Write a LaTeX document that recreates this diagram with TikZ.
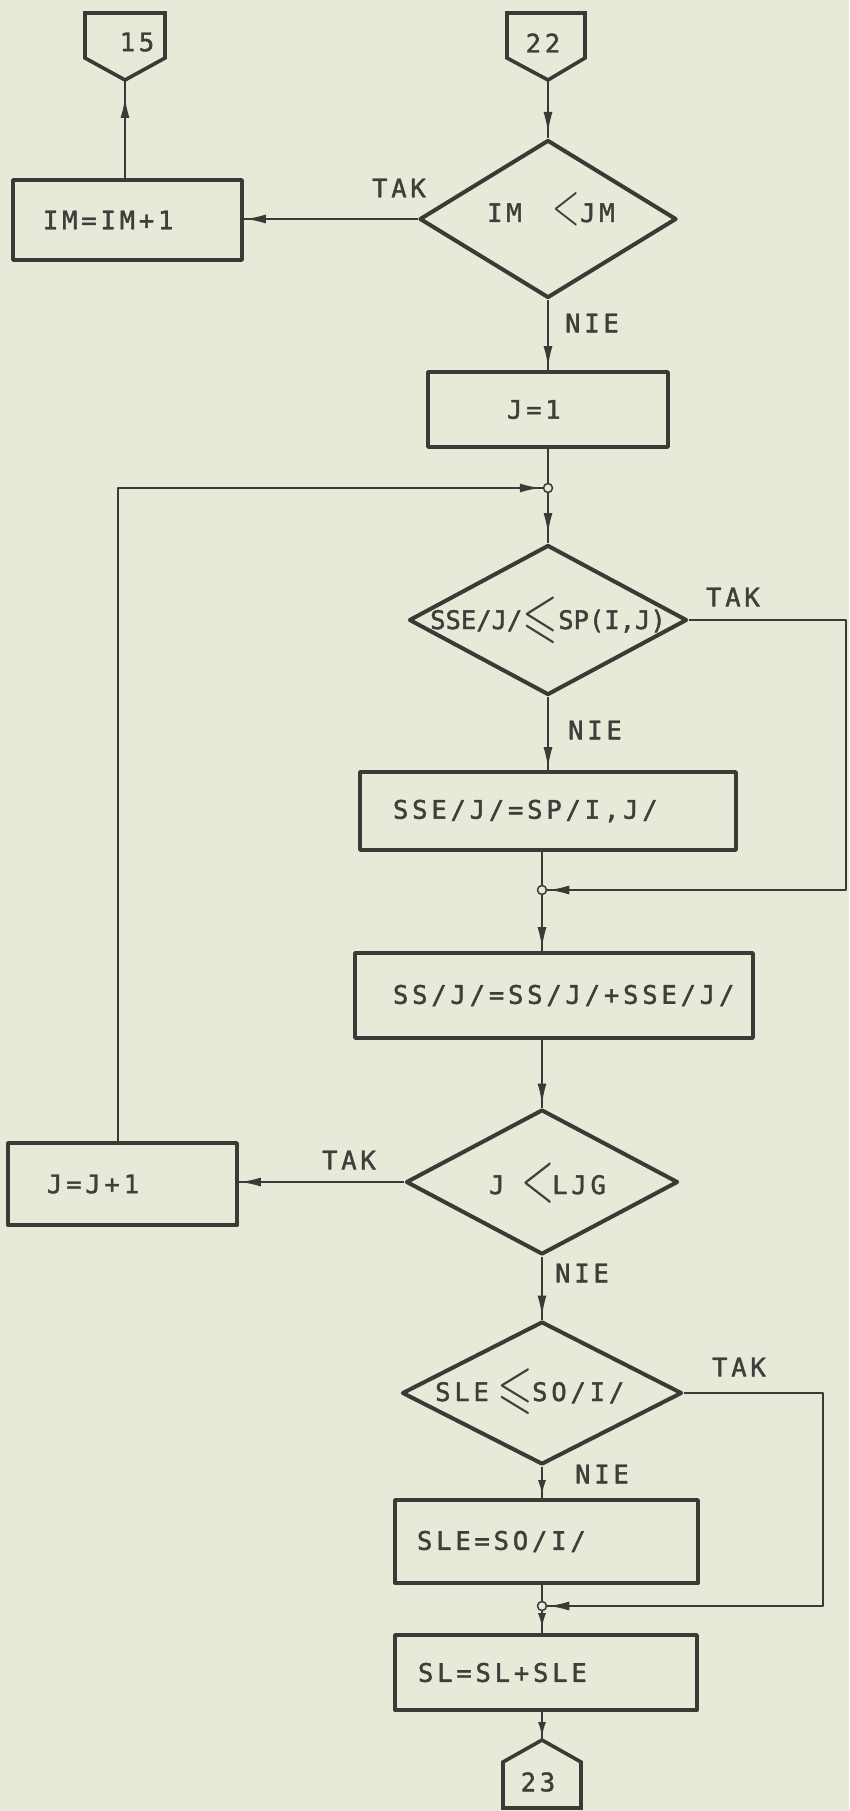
\documentclass[tikz,border=0pt]{standalone}
\usepackage{fontspec}
\usepackage{amssymb}
\usepackage{graphicx}
\usetikzlibrary{shapes.geometric,arrows.meta,decorations.markings}
\newfontfamily\tw[LetterSpace=15,FakeBold=1.6]{DejaVu Sans Mono}
\newfontfamily\twn[FakeBold=1.6]{DejaVu Sans Mono}
\definecolor{paper}{HTML}{E8E9D8}
\definecolor{ink}{HTML}{3A3A36}
\definecolor{txtc}{HTML}{3E3E3A}
\newcommand{\ltsym}[2]{\scalebox{#1}[#2]{$<$}}
\newcommand{\lesym}[2]{\scalebox{#1}[#2]{$\leqslant$}}
\begin{document}
\begin{tikzpicture}[x=1pt,y=-1pt,line join=round,
  every node/.style={text=txtc},
  box/.style={draw=ink,line width=3.8pt,rectangle,inner sep=0pt,font=\tw\fontsize{25.5}{30}\selectfont},
  dec/.style={draw=ink,line width=4pt,diamond,inner sep=0pt},
  lbl/.style={font=\tw\fontsize{25.5}{30}\selectfont,inner sep=0pt},
  flow/.style={draw=ink,line width=2pt},
  arr/.style={postaction={decorate},decoration={markings,mark=at position #1 with {\arrow{Latex[length=21pt,width=9pt]}}}},
  sarr/.style={postaction={decorate},decoration={markings,mark=at position #1 with {\arrow{Latex[length=15pt,width=8pt]}}}},
  junc/.style={circle,draw=ink,fill=paper,line width=1.5pt,minimum size=9pt,inner sep=0pt},
  pent/.style={draw=ink,line width=3.6pt,line join=miter}]
\fill[paper] (0,0) rectangle (849,1811);
\useasboundingbox (0,0) rectangle (849,1811);

% off-page connectors
\draw[pent] (85,13) -- (165,13) -- (165,58) -- (125,80) -- (85,58) -- cycle;
\coordinate (c15tip) at (125,80);
\node[lbl] (c15) at (137,42) {15};
\draw[pent] (507,13) -- (585,13) -- (585,58) -- (548,80) -- (507,58) -- cycle;
\coordinate (c22tip) at (548,80);
\node[lbl] (c22) at (543,43) {22};
\draw[pent] (503,1808) -- (581,1808) -- (581,1762) -- (542,1740) -- (503,1762) -- cycle;
\coordinate (c23tip) at (542,1740);
\node[lbl] (c23) at (538,1782) {23};

% decisions
\node[dec,minimum width=257pt,minimum height=158pt] (d1) at (548,219) {};
\node[lbl,anchor=base west] (d1t) at (487,222) {\makebox[66pt][l]{IM}\makebox[27pt]{\raisebox{-3pt}{\ltsym{1.45}{2.45}}}JM};
\node[dec,minimum width=278pt,minimum height=150pt] (d2) at (548,620) {};
\node[lbl,font=\twn\fontsize{25.5}{30}\selectfont,anchor=base west] (d2t) at (430,629) {SSE/J/\makebox[36pt]{\raisebox{-6pt}{\lesym{1.8}{2.38}}}SP(I,J)};
\node[dec,minimum width=272pt,minimum height=145pt] (d3) at (542,1182) {};
\node[lbl,anchor=base west] (d3t) at (489,1194) {\makebox[34pt][l]{J}\makebox[29pt]{\raisebox{-7.5pt}{\ltsym{1.75}{2.95}}}LJG};
\node[dec,minimum width=280pt,minimum height=143pt] (d4) at (542,1393) {};
\node[lbl,anchor=base west] (d4t) at (435,1401) {\makebox[63pt][l]{SLE}\makebox[34pt]{\raisebox{-5.5pt}{\lesym{1.8}{2.33}}}SO/I/};

% process boxes
\node[box,minimum width=229pt,minimum height=80pt] (im) at (127.5,220) {\makebox[229pt][l]{\hspace{30pt}IM=IM+1}};
\node[box,minimum width=240pt,minimum height=75pt] (jone) at (548,409.5) {\makebox[240pt][l]{\hspace{79pt}J=1}};
\node[box,minimum width=376pt,minimum height=78pt] (sse) at (548,811) {\makebox[376pt][l]{\hspace{33pt}SSE/J/=SP/I,J/}};
\node[box,minimum width=398pt,minimum height=85pt] (ss) at (554,995.5) {\makebox[398pt][l]{\hspace{38pt}SS/J/=SS/J/+SSE/J/}};
\node[box,minimum width=229pt,minimum height=82pt] (jj) at (122.5,1184) {\makebox[229pt][l]{\hspace{39pt}J=J+1}};
\node[box,minimum width=303pt,minimum height=83pt] (sle) at (546.5,1541.5) {\makebox[303pt][l]{\hspace{22pt}SLE=SO/I/}};
\node[box,minimum width=302pt,minimum height=75pt] (sl) at (546,1672.5) {\makebox[302pt][l]{\hspace{23pt}SL=SL+SLE}};

% junctions
\node[junc] (j1) at (548,488) {};
\node[junc] (j2) at (542,890) {};
\node[junc] (j3) at (542,1606) {};
\coordinate (loopc) at (118,488);
\coordinate (r2) at (846,890);
\coordinate (r4) at (823,1606);

% labels
\node[lbl] (tak1) at (399,188) {TAK};
\node[lbl] (nie1) at (592,323) {NIE};
\node[lbl] (tak2) at (733,597) {TAK};
\node[lbl] (nie2) at (595,730) {NIE};
\node[lbl] (tak3) at (349,1160) {TAK};
\node[lbl] (nie3) at (582,1273) {NIE};
\node[lbl] (tak4) at (739,1367) {TAK};
\node[lbl] (nie4) at (602,1474) {NIE};

% flow lines
\draw[flow,arr=-5pt] (c22tip) -- (d1.north);
\draw[flow,arr=-1pt] (d1.west) -- (im.east |- d1.west);
\draw[flow,arr=-17pt] (c15tip |- im.north) -- (c15tip);
\draw[flow,arr=-3pt] (d1.south) -- (jone.north);
\draw[flow] (jone.south) -- (j1);
\draw[flow,arr=-2pt] (jj.north -| loopc) -- (loopc) -- (j1);
\draw[flow,arr=-9pt] (j1) -- (d2.north);
\draw[flow,arr=-1pt] (d2.east) -- (d2.east -| r2) -- (r2) -- (j2);
\draw[flow,arr=-2pt] (d2.south) -- (d2.south |- sse.north);
\draw[flow] (j2 |- sse.south) -- (j2);
\draw[flow,arr=-3pt] (j2) -- (j2 |- ss.north);
\draw[flow,arr=-3pt] (j2 |- ss.south) -- (d3.north);
\draw[flow,arr=-1pt] (d3.west) -- (jj.east |- d3.west);
\draw[flow,arr=-3pt] (d3.south) -- (d4.north);
\draw[flow,arr=-1pt] (d4.east) -- (d4.east -| r4) -- (r4) -- (j3);
\draw[flow,sarr=-3pt] (d4.south) -- (d4.south |- sle.north);
\draw[flow] (j3 |- sle.south) -- (j3);
\draw[flow,sarr=-5pt] (j3) -- (j3 |- sl.north);
\draw[flow,sarr=-3pt] (c23tip |- sl.south) -- (c23tip);
\end{tikzpicture}
\end{document}
